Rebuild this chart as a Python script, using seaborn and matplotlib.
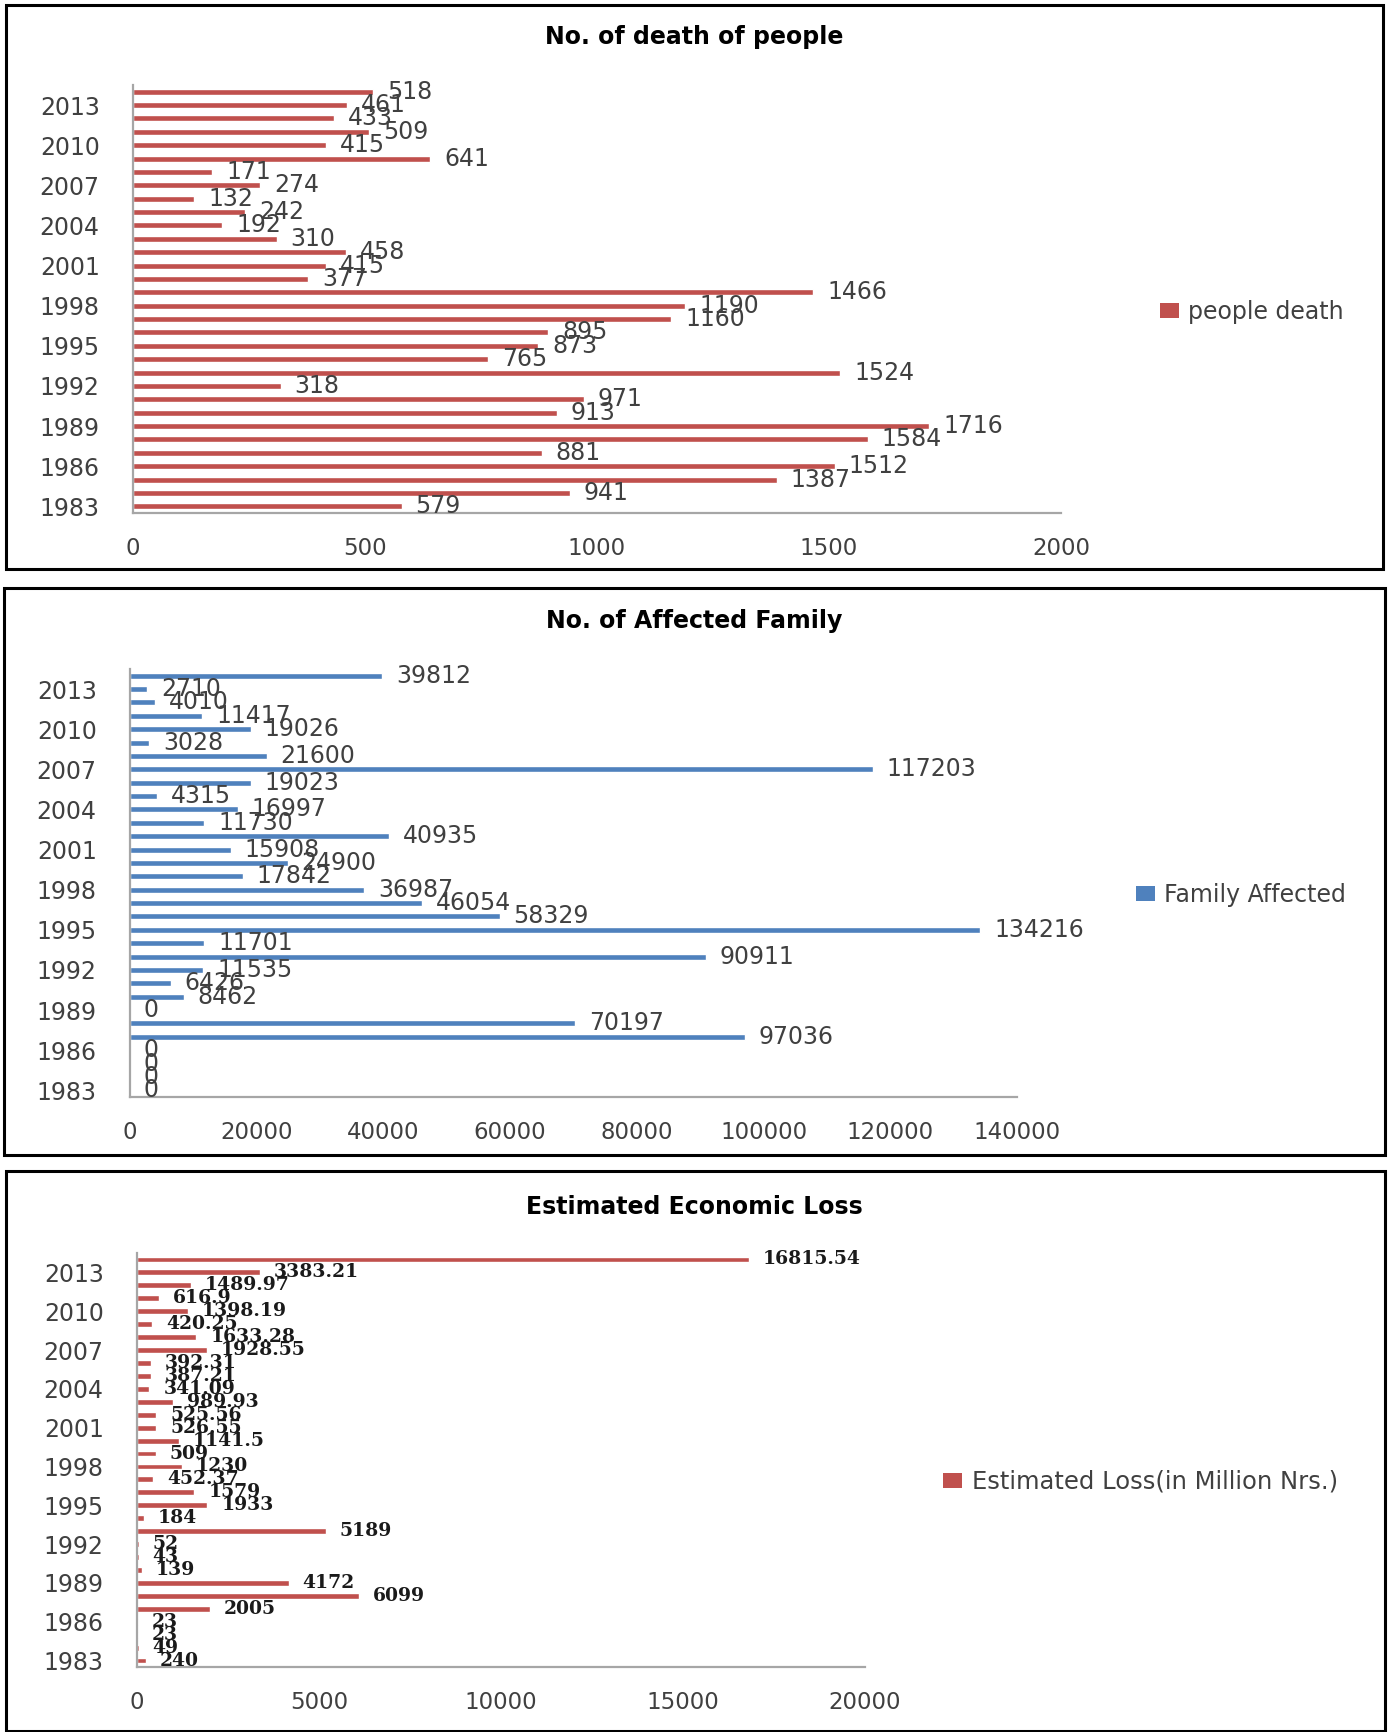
import matplotlib
matplotlib.use("Agg")
import matplotlib.pyplot as plt
from matplotlib.patches import Rectangle, Patch
import pandas as pd
import seaborn as sns

# ---- data (years 1983..2014) ----
years = list(range(1983, 2015))
deaths = [579, 941, 1387, 1512, 881, 1584, 1716, 913, 971, 318, 1524, 765,
          873, 895, 1160, 1190, 1466, 377, 415, 458, 310, 192, 242, 132,
          274, 171, 641, 415, 509, 433, 461, 518]
families = [0, 0, 0, 0, 97036, 70197, 0, 8462, 6426, 11535, 90911, 11701,
            134216, 58329, 46054, 36987, 17842, 24900, 15908, 40935, 11730,
            16997, 4315, 19023, 117203, 21600, 3028, 19026, 11417, 4010,
            2710, 39812]
loss = [240, 49, 23, 23, 2005, 6099, 4172, 139, 43, 52, 5189, 184, 1933,
        1579, 452.37, 1230, 509, 1141.5, 526.55, 525.56, 989.93, 341.09,
        387.21, 392.31, 1928.55, 1633.28, 420.25, 1398.19, 616.9, 1489.97,
        3383.21, 16815.54]

titles = ["No. of death of people", "No. of Affected Family", "Estimated Economic Loss"]
series_names = ["people death", "Family Affected", "Estimated Loss(in Million Nrs.)"]
x_ticks = [[0, 500, 1000, 1500, 2000],
           [0, 20000, 40000, 60000, 80000, 100000, 120000, 140000],
           [0, 5000, 10000, 15000, 20000]]

RED = "#C0504D"
BLUE = "#4F81BD"
AXIS = "#A6A6A6"
TEXT = "#404040"

W, H = 1389, 1732
sns.set_theme(style="white")
plt.rcParams["font.family"] = ["DejaVu Sans"]

fig = plt.figure(figsize=(W / 100, H / 100), dpi=100, facecolor="white")


def frac_rect(x0, y0, x1, y1):
    return [x0 / W, 1 - y1 / H, (x1 - x0) / W, (y1 - y0) / H]


def fmt(v):
    return f"{v:.2f}".rstrip("0").rstrip(".")


panels = [
    dict(values=deaths, color=RED, box=(6, 5, 1383, 569), axes=(133, 85, 1061, 513),
         title_y=37, legend=(1160, 312),
         label_font=dict(family="DejaVu Sans", size=17, color=TEXT), legend_size=17),
    dict(values=families, color=BLUE, box=(4, 588, 1385, 1155), axes=(130, 669, 1017, 1097),
         title_y=621, legend=(1136, 895),
         label_font=dict(family="DejaVu Sans", size=17, color=TEXT), legend_size=17),
    dict(values=loss, color=RED, box=(6, 1171, 1385, 1731), axes=(137, 1253, 865, 1667),
         title_y=1207, legend=(943, 1482),
         label_font=dict(family="DejaVu Serif", size=13.5, color="#1a1a1a", weight="bold"),
         legend_size=17.5),
]

order = [str(y) for y in reversed(years)]

for i, p in enumerate(panels):
    # panel frame
    bx = frac_rect(*p["box"])
    fig.add_artist(Rectangle((bx[0], bx[1]), bx[2], bx[3], transform=fig.transFigure,
                             fill=False, edgecolor="black", linewidth=2.2))
    fig.text(0.5, 1 - p["title_y"] / H, titles[i], ha="center", va="center",
             fontsize=17, fontweight="bold", color="black")

    ax = fig.add_axes(frac_rect(*p["axes"]))
    df = pd.DataFrame({"year": [str(y) for y in years], "value": p["values"]})
    sns.barplot(data=df, x="value", y="year", order=order, color=p["color"],
                saturation=1, width=0.45, errorbar=None, orient="h", ax=ax)

    # value labels at the end of each bar
    vmap = dict(zip(df["year"], df["value"]))
    cont = ax.containers[0]
    labels = []
    for patch in cont:
        idx = int(round(patch.get_y() + patch.get_height() / 2))
        labels.append(fmt(vmap[order[idx]]))
    lf = p["label_font"]
    ax.bar_label(cont, labels=labels, padding=10, fontsize=lf["size"],
                 family=lf["family"], color=lf["color"],
                 fontweight=lf.get("weight", "normal"))

    ax.set_xlim(0, x_ticks[i][-1])
    ax.set_ylim(len(years) - 0.5, -0.5)
    ax.set_xticks(x_ticks[i])
    ax.set_xticklabels([str(t) for t in x_ticks[i]])
    major_pos = [k for k, y in enumerate(order) if (int(y) - 1983) % 3 == 0]
    ax.set_yticks(major_pos)
    ax.set_yticklabels([order[k] for k in major_pos])
    ax.set_yticks([k - 0.5 for k in range(len(order) + 1)], minor=True)
    ax.set_xlabel("")
    ax.set_ylabel("")

    ax.tick_params(axis="y", which="major", length=0, pad=24, labelsize=17, labelcolor=TEXT)
    ax.tick_params(axis="y", which="minor", length=8, width=1.2, direction="inout", color=AXIS)
    ax.tick_params(axis="x", which="major", length=7, width=1.2, direction="out", color=AXIS,
                   pad=10, labelsize=16.5, labelcolor=TEXT)
    for side in ("top", "right"):
        ax.spines[side].set_visible(False)
    for side in ("left", "bottom"):
        ax.spines[side].set_color(AXIS)
        ax.spines[side].set_linewidth(1.6)
    ax.grid(False)
    ax.set_facecolor("white")

    lx, ly = p["legend"]
    ax.legend(handles=[Patch(facecolor=p["color"], edgecolor="none", label=series_names[i])],
              loc="center left", bbox_to_anchor=(lx / W, 1 - ly / H),
              bbox_transform=fig.transFigure, frameon=False, fontsize=p["legend_size"],
              labelcolor=TEXT, handlelength=0.8, handleheight=0.6,
              handletextpad=0.4, borderpad=0, borderaxespad=0)

fig.savefig("out.png", dpi=100, facecolor="white")
